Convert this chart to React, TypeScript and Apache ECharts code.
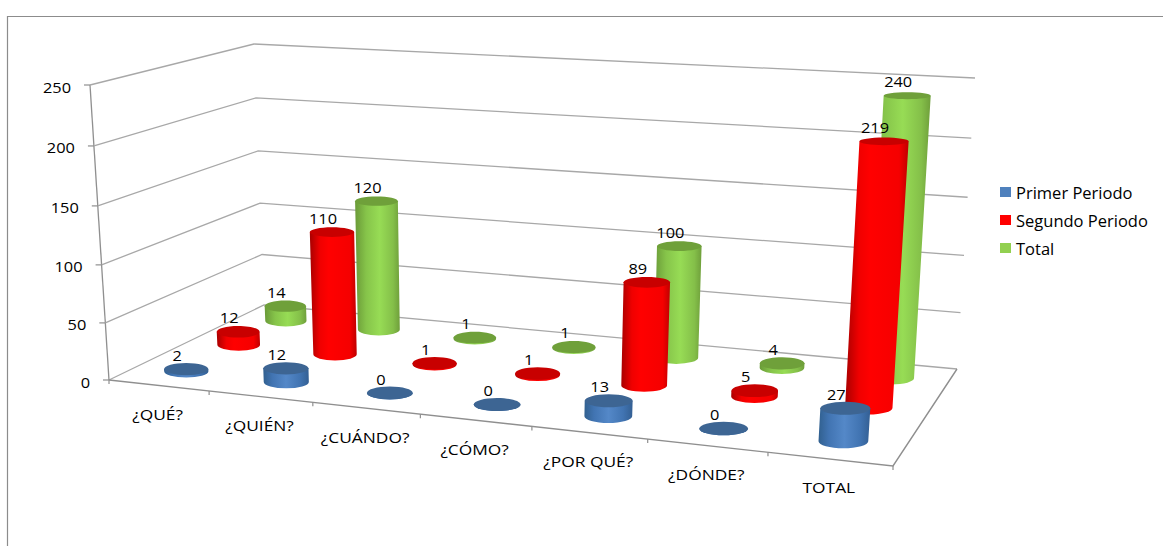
import React, { useEffect, useRef } from "react";
import * as echarts from "echarts";

const categories = ["¿QUÉ?", "¿QUIÉN?", "¿CUÁNDO?", "¿CÓMO?", "¿POR QUÉ?", "¿DÓNDE?", "TOTAL"];
const primerPeriodo = [2, 12, 0, 0, 13, 0, 27];
const segundoPeriodo = [12, 110, 1, 1, 89, 5, 219];
const totalValues = [14, 120, 1, 1, 100, 4, 240];
const valueTicks = [0, 50, 100, 150, 200, 250];

const FONT = "'Open Sans', sans-serif";
const GRID_COLOR = "#a8a8a8";
const AXIS_COLOR = "#8f8f8f";

type Pt = [number, number];

// Maps the unit square onto a quadrilateral (front-left, front-right, back-right, back-left).
function quadMap([p0, p1, p2, p3]: Pt[]) {
  const dx1 = p1[0] - p2[0], dx2 = p3[0] - p2[0], sx = p0[0] - p1[0] + p2[0] - p3[0];
  const dy1 = p1[1] - p2[1], dy2 = p3[1] - p2[1], sy = p0[1] - p1[1] + p2[1] - p3[1];
  const det = dx1 * dy2 - dx2 * dy1;
  const g = (sx * dy2 - dx2 * sy) / det;
  const h = (dx1 * sy - sx * dy1) / det;
  const a = p1[0] - p0[0] + g * p1[0], b = p3[0] - p0[0] + h * p3[0], c = p0[0];
  const d = p1[1] - p0[1] + g * p1[1], e = p3[1] - p0[1] + h * p3[1], f = p0[1];
  return (s: number, t: number): Pt => {
    const w = g * s + h * t + 1;
    return [(a * s + b * t + c) / w, (d * s + e * t + f) / w];
  };
}

// Chart box in perspective: the floor plane, and how far each floor corner rises at the axis maximum.
const floorPlane = quadMap([[109, 380], [893, 466], [957, 369], [264, 305]]);
const riseFrontLeft: Pt = [-19, -295];
const riseFrontRight: Pt = [22, -325];
const riseBackRight: Pt = [18, -291];
const riseBackLeft: Pt = [-10, -261];
const RISE = 0.96;

function project(s: number, t: number, k: number): Pt {
  const a = floorPlane(s + 0.012 * s * (1 - s), t);
  const q = (k * RISE) / (1 - k + k * RISE);
  const lift = (i: 0 | 1) =>
    (1 - t) * ((1 - s) * riseFrontLeft[i] + s * riseFrontRight[i]) +
    t * ((1 - s) * riseBackLeft[i] + s * riseBackRight[i]);
  return [a[0] + lift(0) * q, a[1] + lift(1) * q];
}

// Axis scales give fractions of the hidden grid; the box projection takes it from there.
function fractions(params: any, pixel: number[]) {
  const cs = params.coordSys;
  return {
    s: (pixel[0] - cs.x) / cs.width,
    k: (cs.y + cs.height - pixel[1]) / cs.height,
  };
}

function numberText(x: number, y: number, text: string, align = "center") {
  return {
    type: "text",
    x,
    y,
    scaleX: 1.17,
    style: { text, fill: "#000", fontFamily: FONT, fontSize: 14, align, verticalAlign: "middle" },
  };
}

function cylinderSeries(
  name: string,
  values: number[],
  depth: number,
  z: number,
  topColor: string,
  stops: [number, string][],
) {
  const bandHalf = 0.227 / categories.length;
  return {
    name,
    type: "custom",
    coordinateSystem: "cartesian2d",
    z,
    silent: true,
    itemStyle: { color: stops[Math.floor(stops.length / 2)][1] },
    data: values.map((v, i) => [i, v]),
    encode: { x: 0, y: 1 },
    renderItem(params: any, api: any) {
      const { s, k } = fractions(params, api.coord([api.value(0), api.value(1)]));
      const base = project(s, depth, 0);
      const top = project(s, depth, k);
      // Cylinders widen a little less towards the right than the floor does.
      const damp = 1 - 0.11 * s;
      const rxBase = (damp * (project(s + bandHalf, depth, 0)[0] - project(s - bandHalf, depth, 0)[0])) / 2;
      const rxTop = (damp * (project(s + bandHalf, depth, k)[0] - project(s - bandHalf, depth, k)[0])) / 2;
      const ryBase = rxBase * 0.28;
      // Higher caps are seen at a flatter angle.
      const ryTop = rxTop * (0.28 - 0.14 * k);
      const pathData =
        `M${top[0] - rxTop} ${top[1]}L${base[0] - rxBase} ${base[1]}` +
        `A${rxBase} ${ryBase} 0 0 0 ${base[0] + rxBase} ${base[1]}` +
        `L${top[0] + rxTop} ${top[1]}Z`;
      return {
        type: "group",
        children: [
          {
            type: "path",
            shape: { pathData, layout: "none" },
            style: {
              fill: new echarts.graphic.LinearGradient(
                0, 0, 1, 0,
                stops.map(([offset, color]) => ({ offset, color })),
              ),
            },
          },
          {
            type: "ellipse",
            shape: { cx: top[0], cy: top[1], rx: rxTop, ry: ryTop },
            style: { fill: topColor },
          },
          numberText(top[0] - 9, top[1] - 14, String(api.value(1))),
        ],
      };
    },
  };
}

// Walls, floor, value ticks and their labels.
const wallSeries = {
  name: "ejes-valor",
  type: "custom",
  coordinateSystem: "cartesian2d",
  z: 1,
  silent: true,
  data: valueTicks.map((v) => [0, v]),
  encode: { x: 0, y: 1 },
  renderItem(params: any, api: any) {
    const { k } = fractions(params, api.coord([0, api.value(1)]));
    const front = project(0, 0, k);
    const back = project(0, 1, k);
    const right = project(1, 1, k);
    const children: any[] = [
      {
        type: "polyline",
        shape: { points: [front, back, right] },
        style: { stroke: GRID_COLOR, lineWidth: 1.3, fill: "none" },
      },
      {
        type: "line",
        shape: { x1: front[0] - 6, y1: front[1], x2: front[0], y2: front[1] },
        style: { stroke: AXIS_COLOR, lineWidth: 1.2 },
      },
      numberText(front[0] - 19, front[1] + 2, String(api.value(1)), "right"),
    ];
    if (k === 0) {
      const nearRight = project(1, 0, 0);
      children.push({
        type: "polyline",
        shape: { points: [right, nearRight, front] },
        style: { stroke: AXIS_COLOR, lineWidth: 1.4, fill: "none" },
      });
      const top = project(0, 0, 1);
      children.push({
        type: "line",
        shape: { x1: front[0], y1: front[1], x2: top[0], y2: top[1] },
        style: { stroke: AXIS_COLOR, lineWidth: 1.3 },
      });
    }
    return { type: "group", children };
  },
};

// Category ticks along the front floor edge, with their labels.
const categorySeries = {
  name: "ejes-categoria",
  type: "custom",
  coordinateSystem: "cartesian2d",
  z: 1,
  silent: true,
  data: categories.map((_, i) => [i, 0]),
  encode: { x: 0, y: 1 },
  renderItem(params: any, api: any) {
    const { s } = fractions(params, api.coord([api.value(0), 0]));
    const half = 0.5 / categories.length;
    const mid = project(s, 0, 0);
    const tick = (at: number) => {
      const p = project(at, 0, 0);
      return {
        type: "line",
        shape: { x1: p[0], y1: p[1], x2: p[0], y2: p[1] + 4 },
        style: { stroke: AXIS_COLOR, lineWidth: 1.2 },
      };
    };
    const children: any[] = [
      tick(s + half),
      {
        type: "text",
        x: mid[0] - 1,
        y: mid[1] + 29,
        scaleX: 1.24,
        style: {
          text: categories[api.value(0)],
          fill: "#000",
          fontFamily: FONT,
          fontSize: 14,
          align: "center",
          verticalAlign: "middle",
        },
      },
    ];
    if (api.value(0) === 0) children.push(tick(s - half));
    return { type: "group", children };
  },
};

export default function App() {
  const ref = useRef<HTMLDivElement>(null);

  useEffect(() => {
    document.body.style.margin = "0";
    const chart = echarts.init(ref.current!, undefined, { renderer: "svg" });
    chart.setOption({
      animation: false,
      backgroundColor: "#fff",
      grid: { left: 0, right: 0, top: 0, bottom: 0 },
      xAxis: { type: "category", data: categories, show: false },
      yAxis: { type: "value", min: 0, max: 250, interval: 50, show: false },
      legend: {
        orient: "vertical",
        left: 1000,
        top: 182,
        padding: 0,
        itemWidth: 11,
        itemHeight: 10,
        itemGap: 8,
        itemTextGap: 6,
        selectedMode: false,
        icon: "rect",
        data: [
          { name: "Primer Periodo", itemStyle: { color: "#4F81BD" } },
          { name: "Segundo Periodo", itemStyle: { color: "#FF0000" } },
          { name: "Total", itemStyle: { color: "#92D050" } },
        ],
        textStyle: { fontFamily: FONT, fontSize: 16.5, color: "#000", lineHeight: 20 },
      },
      graphic: [
        {
          type: "polyline",
          shape: { points: [[7.5, 546], [7.5, 16.5], [1163, 16.5]] },
          style: { stroke: "#8c8c8c", lineWidth: 1.2, fill: "none" },
          silent: true,
        },
      ],
      series: [
        wallSeries,
        categorySeries,
        cylinderSeries("Primer Periodo", primerPeriodo, 0.165, 5, "#3D6593", [
          [0, "#31608f"], [0.2, "#4174b2"], [0.5, "#5488c8"], [0.8, "#4174b2"], [1, "#335f93"],
        ]),
        cylinderSeries("Segundo Periodo", segundoPeriodo, 0.5, 4, "#C80000", [
          [0, "#a80000"], [0.22, "#f00000"], [0.4, "#ff0000"], [0.85, "#f50000"], [1, "#c00000"],
        ]),
        cylinderSeries("Total", totalValues, 0.83, 3, "#6FA03A", [
          [0, "#6a9a38"], [0.25, "#86c44a"], [0.55, "#97dc55"], [0.85, "#84bf49"], [1, "#6f9f3b"],
        ]),
      ],
    });
    return () => chart.dispose();
  }, []);

  return <div ref={ref} style={{ width: 1163, height: 546, overflow: "hidden" }} />;
}
